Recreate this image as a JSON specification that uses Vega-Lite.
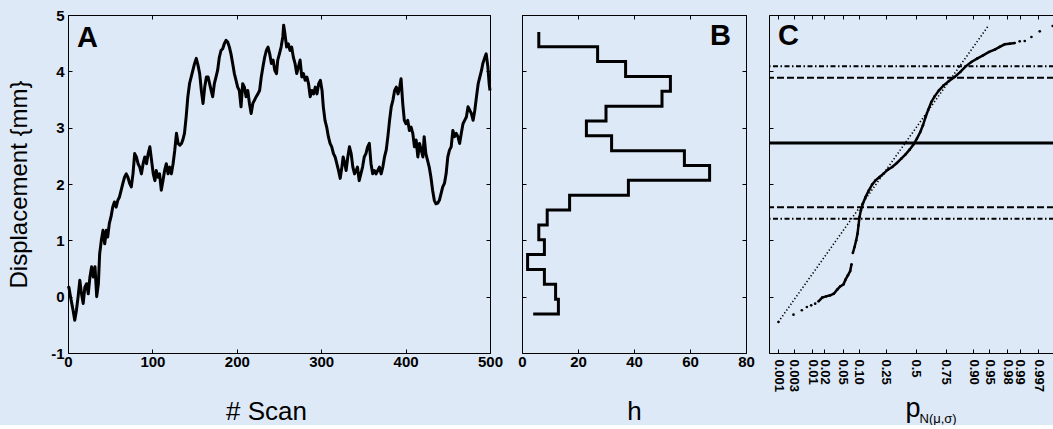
{
  "$schema": "https://vega.github.io/schema/vega-lite/v6.json",
  "background": "#dde9f7",
  "padding": {"left": 6, "top": 7, "right": 0, "bottom": 0},
  "bounds": "flush",
  "spacing": 32,
  "datasets": {
    "series": [
      {"scan":0,"disp":0.15},{"scan":1,"disp":0.17},{"scan":3,"disp":0.0},{"scan":6,"disp":-0.24},{"scan":8,"disp":-0.42},{"scan":10,"disp":-0.24},{"scan":12,"disp":0.0},{"scan":14,"disp":0.29},{"scan":16,"disp":0.05},{"scan":18,"disp":-0.12},
      {"scan":20,"disp":0.17},{"scan":22,"disp":0.23},{"scan":24,"disp":0.05},{"scan":26,"disp":0.35},{"scan":28,"disp":0.53},{"scan":30,"disp":0.35},{"scan":32,"disp":0.53},{"scan":34,"disp":0.0},{"scan":36,"disp":0.23},{"scan":37.5,"disp":0.76},
      {"scan":39.5,"disp":1.0},{"scan":41.5,"disp":1.18},{"scan":43.5,"disp":0.94},{"scan":45.5,"disp":1.18},{"scan":47,"disp":1.06},{"scan":49,"disp":1.3},{"scan":51,"disp":1.42},{"scan":53,"disp":1.59},{"scan":55,"disp":1.68},{"scan":57,"disp":1.59},
      {"scan":59,"disp":1.71},{"scan":61,"disp":1.77},{"scan":63,"disp":1.89},{"scan":65,"disp":2.01},{"scan":67,"disp":2.12},{"scan":69,"disp":2.18},{"scan":71,"disp":2.12},{"scan":73,"disp":2.01},{"scan":75,"disp":1.95},{"scan":77,"disp":2.18},
      {"scan":79,"disp":2.54},{"scan":81,"disp":2.48},{"scan":83,"disp":2.36},{"scan":85,"disp":2.3},{"scan":87,"disp":2.18},{"scan":89,"disp":2.36},{"scan":91,"disp":2.48},{"scan":93,"disp":2.36},{"scan":95,"disp":2.54},{"scan":97,"disp":2.66},
      {"scan":99,"disp":2.42},{"scan":101,"disp":2.18},{"scan":103,"disp":2.06},{"scan":104.5,"disp":2.24},{"scan":106.5,"disp":2.12},{"scan":108.5,"disp":2.18},{"scan":110.5,"disp":1.89},{"scan":112.5,"disp":2.06},{"scan":114.5,"disp":2.24},{"scan":116.5,"disp":2.36},
      {"scan":118.5,"disp":2.18},{"scan":120.5,"disp":2.3},{"scan":122.5,"disp":2.18},{"scan":124.5,"disp":2.36},{"scan":126.5,"disp":2.6},{"scan":128.5,"disp":2.9},{"scan":130.5,"disp":2.72},{"scan":132.5,"disp":2.69},{"scan":134.5,"disp":2.72},{"scan":136,"disp":2.78},
      {"scan":138,"disp":2.9},{"scan":140,"disp":3.19},{"scan":142,"disp":3.55},{"scan":144,"disp":3.78},{"scan":146,"disp":3.9},{"scan":148,"disp":4.02},{"scan":150,"disp":4.14},{"scan":152,"disp":4.23},{"scan":154,"disp":4.11},{"scan":156,"disp":3.96},
      {"scan":158,"disp":3.66},{"scan":160,"disp":3.43},{"scan":162,"disp":3.72},{"scan":164,"disp":3.9},{"scan":166,"disp":3.9},{"scan":168.7,"disp":3.72},{"scan":171.4,"disp":3.55},{"scan":173.4,"disp":3.78},{"scan":175.4,"disp":3.9},{"scan":177.3,"disp":4.02},
      {"scan":179.3,"disp":4.25},{"scan":181.3,"disp":4.37},{"scan":183.3,"disp":4.4},{"scan":185.2,"disp":4.49},{"scan":187.2,"disp":4.55},{"scan":189.2,"disp":4.52},{"scan":191.2,"disp":4.43},{"scan":193.1,"disp":4.31},{"scan":195.1,"disp":4.14},{"scan":197.1,"disp":3.96},
      {"scan":199.1,"disp":3.84},{"scan":201,"disp":3.72},{"scan":203,"disp":3.66},{"scan":205,"disp":3.37},{"scan":207,"disp":3.78},{"scan":209,"disp":3.72},{"scan":211,"disp":3.55},{"scan":213,"disp":3.66},{"scan":215,"disp":3.43},{"scan":217,"disp":3.25},
      {"scan":219,"disp":3.43},{"scan":221,"disp":3.49},{"scan":223,"disp":3.55},{"scan":225,"disp":3.6},{"scan":227,"disp":3.66},{"scan":229,"disp":3.9},{"scan":231,"disp":4.08},{"scan":233,"disp":4.25},{"scan":235,"disp":4.37},{"scan":237,"disp":4.43},
      {"scan":239,"disp":4.31},{"scan":241,"disp":4.14},{"scan":243,"disp":4.2},{"scan":245,"disp":4.02},{"scan":247,"disp":3.96},{"scan":248.5,"disp":4.2},{"scan":250.5,"disp":4.31},{"scan":252.5,"disp":4.43},{"scan":254.5,"disp":4.61},{"scan":255.5,"disp":4.82},
      {"scan":257,"disp":4.67},{"scan":259,"disp":4.43},{"scan":261,"disp":4.49},{"scan":263,"disp":4.37},{"scan":265,"disp":4.43},{"scan":267,"disp":4.25},{"scan":269,"disp":4.14},{"scan":271,"disp":3.96},{"scan":273,"disp":4.08},{"scan":275,"disp":4.2},
      {"scan":277,"disp":3.9},{"scan":279,"disp":3.96},{"scan":281,"disp":3.84},{"scan":283,"disp":3.9},{"scan":285,"disp":3.78},{"scan":287,"disp":3.55},{"scan":289,"disp":3.66},{"scan":291,"disp":3.6},{"scan":293,"disp":3.72},{"scan":295,"disp":3.6},
      {"scan":297,"disp":3.78},{"scan":299,"disp":3.84},{"scan":301,"disp":3.66},{"scan":302.5,"disp":3.37},{"scan":304.5,"disp":3.13},{"scan":306.5,"disp":3.01},{"scan":308.5,"disp":2.84},{"scan":310.5,"disp":2.72},{"scan":312.5,"disp":2.66},{"scan":314.5,"disp":2.54},
      {"scan":316.5,"disp":2.48},{"scan":318.5,"disp":2.36},{"scan":320.5,"disp":2.24},{"scan":322.5,"disp":2.1},{"scan":324.5,"disp":2.3},{"scan":326,"disp":2.48},{"scan":328,"disp":2.36},{"scan":329.5,"disp":2.24},{"scan":331.5,"disp":2.48},{"scan":333.5,"disp":2.66},
      {"scan":335.5,"disp":2.54},{"scan":337.5,"disp":2.3},{"scan":339.5,"disp":2.18},{"scan":341.5,"disp":2.24},{"scan":343,"disp":2.3},{"scan":345,"disp":2.06},{"scan":347,"disp":2.18},{"scan":349,"disp":2.3},{"scan":351,"disp":2.48},{"scan":353,"disp":2.54},
      {"scan":355,"disp":2.66},{"scan":357,"disp":2.72},{"scan":359,"disp":2.36},{"scan":361,"disp":2.18},{"scan":363,"disp":2.24},{"scan":365,"disp":2.18},{"scan":367,"disp":2.24},{"scan":369,"disp":2.3},{"scan":371,"disp":2.18},{"scan":373,"disp":2.3},
      {"scan":375,"disp":2.48},{"scan":377,"disp":2.6},{"scan":379,"disp":2.84},{"scan":381,"disp":3.13},{"scan":383,"disp":3.37},{"scan":385,"disp":3.49},{"scan":387,"disp":3.66},{"scan":389,"disp":3.72},{"scan":391,"disp":3.6},{"scan":393,"disp":3.72},
      {"scan":394.6,"disp":3.87},{"scan":396.6,"disp":3.43},{"scan":398.5,"disp":3.13},{"scan":400.5,"disp":3.07},{"scan":402.5,"disp":3.13},{"scan":404.5,"disp":2.95},{"scan":406.5,"disp":3.01},{"scan":408.5,"disp":2.9},{"scan":410.5,"disp":2.66},{"scan":412.5,"disp":2.78},
      {"scan":414.5,"disp":2.48},{"scan":416.5,"disp":2.72},{"scan":418.5,"disp":2.6},{"scan":420.5,"disp":2.48},{"scan":422,"disp":2.84},{"scan":424,"disp":2.54},{"scan":426,"disp":2.42},{"scan":428,"disp":2.3},{"scan":430,"disp":2.12},{"scan":432,"disp":1.89},
      {"scan":434,"disp":1.71},{"scan":436,"disp":1.65},{"scan":438,"disp":1.66},{"scan":440,"disp":1.71},{"scan":442,"disp":1.83},{"scan":444,"disp":1.95},{"scan":446,"disp":2.01},{"scan":448,"disp":2.18},{"scan":450,"disp":2.48},{"scan":452,"disp":2.6},
      {"scan":454,"disp":2.66},{"scan":456,"disp":2.95},{"scan":458,"disp":2.84},{"scan":460,"disp":2.9},{"scan":462,"disp":2.84},{"scan":464,"disp":2.72},{"scan":466,"disp":2.9},{"scan":468,"disp":3.07},{"scan":470,"disp":3.13},{"scan":472,"disp":3.19},
      {"scan":474,"disp":3.37},{"scan":476,"disp":3.31},{"scan":478,"disp":3.25},{"scan":480,"disp":3.13},{"scan":482,"disp":3.31},{"scan":484,"disp":3.55},{"scan":486,"disp":3.78},{"scan":488,"disp":3.9},{"scan":490,"disp":4.02},{"scan":491.5,"disp":4.14},
      {"scan":493.5,"disp":4.23},{"scan":495.5,"disp":4.31},{"scan":497.5,"disp":4.08},{"scan":499,"disp":3.78},{"scan":500,"disp":3.66}
    ],
    "hist": [
      {"i":0,"h":4,"disp":-0.307},{"i":1,"h":13,"disp":-0.307},{"i":2,"h":13,"disp":-0.044},{"i":3,"h":12,"disp":-0.044},{"i":4,"h":12,"disp":0.22},
      {"i":5,"h":8,"disp":0.22},{"i":6,"h":8,"disp":0.484},{"i":7,"h":2,"disp":0.484},{"i":8,"h":2,"disp":0.747},{"i":9,"h":8,"disp":0.747},
      {"i":10,"h":8,"disp":1.011},{"i":11,"h":6,"disp":1.011},{"i":12,"h":6,"disp":1.274},{"i":13,"h":9,"disp":1.274},{"i":14,"h":9,"disp":1.538},
      {"i":15,"h":17,"disp":1.538},{"i":16,"h":17,"disp":1.801},{"i":17,"h":38,"disp":1.801},{"i":18,"h":38,"disp":2.065},{"i":19,"h":67,"disp":2.065},
      {"i":20,"h":67,"disp":2.328},{"i":21,"h":58,"disp":2.328},{"i":22,"h":58,"disp":2.592},{"i":23,"h":32,"disp":2.592},{"i":24,"h":32,"disp":2.855},
      {"i":25,"h":23,"disp":2.855},{"i":26,"h":23,"disp":3.119},{"i":27,"h":30,"disp":3.119},{"i":28,"h":30,"disp":3.382},{"i":29,"h":50,"disp":3.382},
      {"i":30,"h":50,"disp":3.646},{"i":31,"h":53,"disp":3.646},{"i":32,"h":53,"disp":3.909},{"i":33,"h":37,"disp":3.909},{"i":34,"h":37,"disp":4.173},
      {"i":35,"h":27,"disp":4.173},{"i":36,"h":27,"disp":4.436},{"i":37,"h":6,"disp":4.436},{"i":38,"h":6,"disp":4.7}
    ],
    "qq": [
      {"z":-3.088,"disp":-0.449,"seg":"t"},{"z":-2.75,"disp":-0.319,"seg":"t"},{"z":-2.563,"disp":-0.242,"seg":"t"},{"z":-2.45,"disp":-0.183,"seg":"t"},{"z":-2.353,"disp":-0.154,"seg":"t"},{"z":-2.263,"disp":-0.124,"seg":"t"},
      {"z":-2.188,"disp":-0.083,"seg":"a"},{"z":-2.106,"disp":-0.018,"seg":"a"},{"z":-2.016,"disp":0.006,"seg":"a"},{"z":-1.926,"disp":0.024,"seg":"a"},{"z":-1.844,"disp":0.053,"seg":"a"},{"z":-1.769,"disp":0.124,"seg":"a"},
      {"z":-1.702,"disp":0.183,"seg":"a"},{"z":-1.627,"disp":0.219,"seg":"a"},{"z":-1.582,"disp":0.302,"seg":"a"},{"z":-1.529,"disp":0.379,"seg":"a"},{"z":-1.477,"disp":0.455,"seg":"a"},{"z":-1.447,"disp":0.574,"seg":"a"},
      {"z":-1.417,"disp":0.775,"seg":"b"},{"z":-1.379,"disp":0.882,"seg":"b"},{"z":-1.342,"disp":1.0,"seg":"b"},{"z":-1.312,"disp":1.118,"seg":"b"},{"z":-1.29,"disp":1.266,"seg":"b"},{"z":-1.267,"disp":1.414,"seg":"b"},
      {"z":-1.237,"disp":1.533,"seg":"b"},{"z":-1.192,"disp":1.651,"seg":"b"},{"z":-1.132,"disp":1.769,"seg":"b"},{"z":-1.057,"disp":1.888,"seg":"b"},{"z":-0.982,"disp":1.994,"seg":"b"},{"z":-0.907,"disp":2.065,"seg":"b"},
      {"z":-0.817,"disp":2.124,"seg":"b"},{"z":-0.728,"disp":2.184,"seg":"b"},{"z":-0.63,"disp":2.255,"seg":"b"},{"z":-0.533,"disp":2.302,"seg":"b"},{"z":-0.428,"disp":2.373,"seg":"b"},{"z":-0.33,"disp":2.45,"seg":"b"},
      {"z":-0.233,"disp":2.527,"seg":"b"},{"z":-0.143,"disp":2.61,"seg":"b"},{"z":-0.053,"disp":2.704,"seg":"b"},{"z":0.022,"disp":2.805,"seg":"b"},{"z":0.097,"disp":2.923,"seg":"b"},{"z":0.157,"disp":3.042,"seg":"b"},
      {"z":0.217,"disp":3.19,"seg":"b"},{"z":0.277,"disp":3.32,"seg":"b"},{"z":0.345,"disp":3.456,"seg":"b"},{"z":0.42,"disp":3.556,"seg":"b"},{"z":0.517,"disp":3.663,"seg":"b"},{"z":0.622,"disp":3.752,"seg":"b"},
      {"z":0.742,"disp":3.829,"seg":"b"},{"z":0.869,"disp":3.9,"seg":"b"},{"z":0.997,"disp":3.989,"seg":"b"},{"z":1.117,"disp":4.089,"seg":"b"},{"z":1.244,"disp":4.166,"seg":"b"},{"z":1.372,"disp":4.225,"seg":"b"},
      {"z":1.507,"disp":4.284,"seg":"b"},{"z":1.642,"disp":4.344,"seg":"b"},{"z":1.769,"disp":4.385,"seg":"b"},{"z":1.881,"disp":4.433,"seg":"b"},{"z":1.993,"disp":4.48,"seg":"b"},{"z":2.106,"disp":4.491,"seg":"b"},
      {"z":2.218,"disp":4.503,"seg":"b"},
      {"z":2.33,"disp":4.533,"seg":"t"},{"z":2.443,"disp":4.539,"seg":"t"},{"z":2.593,"disp":4.61,"seg":"t"},{"z":2.78,"disp":4.71,"seg":"t"},{"z":3.07,"disp":4.805,"seg":"t"}
    ],
    "fit": [{"z1":-3.09,"d1":-0.449,"z2":1.618,"d2":4.8}],
    "hl": [
      {"disp":2.728,"kind":"solid"},{"disp":3.888,"kind":"dash"},{"disp":1.586,"kind":"dash"},{"disp":4.089,"kind":"dashdot"},{"disp":1.385,"kind":"dashdot"}
    ]
  },
  "hconcat": [
    {
      "width": 422,
      "height": 338,
      "title": {"text": "A", "anchor": "start", "frame": "group", "dx": 9, "offset": -68, "baseline": "alphabetic"},
      "layer": [
        {
          "data": {"name": "series"},
          "mark": {"type": "line", "color": "#000", "strokeWidth": 3, "strokeJoin": "round"},
          "encoding": {
            "x": {"field": "scan", "type": "quantitative", "scale": {"domain": [0, 500], "nice": false},
                  "axis": {"values": [0,100,200,300,400,500], "title": "# Scan", "labelPadding": 5, "titleX": 198, "titleY": 66, "titleBaseline": "alphabetic"}},
            "y": {"field": "disp", "type": "quantitative", "scale": {"domain": [-1, 5], "nice": false, "zero": false},
                  "axis": {"values": [-1,0,1,2,3,4,5], "labelExpr": "datum.value < 0 ? '-' + format(-datum.value, 'd') : format(datum.value, 'd')", "title": "Displacement {mm}", "labelPadding": 8, "titleX": -42, "titleBaseline": "alphabetic", "titleFontSize": 24}}
          }
        },
        {
          "data": {"name": "series"},
          "mark": {"type": "line", "opacity": 0},
          "encoding": {
            "x": {"field": "scan", "type": "quantitative", "scale": {"domain": [0, 500], "nice": false},
                  "axis": {"orient": "top", "values": [0,100,200,300,400,500], "labels": false, "title": null}},
            "y": {"field": "disp", "type": "quantitative", "scale": {"domain": [-1, 5], "nice": false, "zero": false},
                  "axis": {"orient": "right", "values": [-1,0,1,2,3,4,5], "labels": false, "title": null}}
          }
        }
      ],
      "resolve": {"axis": {"x": "independent", "y": "independent"}}
    },
    {
      "spacing": 23,
      "bounds": "flush",
      "hconcat": [
        {
          "width": 224,
          "height": 338,
          "title": {"text": "B", "anchor": "end", "frame": "group", "dx": -15, "offset": -59, "baseline": "alphabetic"},
          "layer": [
            {
              "data": {"name": "hist"},
              "mark": {"type": "line", "color": "#000", "strokeWidth": 3, "strokeJoin": "miter"},
              "encoding": {
                "x": {"field": "h", "type": "quantitative", "scale": {"domain": [0, 80], "nice": false},
                      "axis": {"values": [0,20,40,60,80], "title": "h", "labelPadding": 5, "titleY": 66, "titleBaseline": "alphabetic"}},
                "y": {"field": "disp", "type": "quantitative", "scale": {"domain": [-1, 5], "nice": false, "zero": false},
                      "axis": {"values": [-1,0,1,2,3,4,5], "labels": false, "title": null}},
                "order": {"field": "i", "type": "quantitative"}
              }
            },
            {
              "data": {"name": "hist"},
              "mark": {"type": "line", "opacity": 0},
              "encoding": {
                "x": {"field": "h", "type": "quantitative", "scale": {"domain": [0, 80], "nice": false},
                      "axis": {"orient": "top", "values": [0,20,40,60,80], "labels": false, "title": null}},
                "y": {"field": "disp", "type": "quantitative", "scale": {"domain": [-1, 5], "nice": false, "zero": false},
                      "axis": {"orient": "right", "values": [-1,0,1,2,3,4,5], "labels": false, "title": null}},
                "order": {"field": "i", "type": "quantitative"}
              }
            }
          ],
          "resolve": {"axis": {"x": "independent", "y": "independent"}}
        },
        {
          "width": 285,
          "height": 338,
          "view": {"stroke": null},
          "title": {"text": "C", "anchor": "start", "frame": "group", "dx": 9, "offset": -59, "baseline": "alphabetic"},
          "layer": [
            {
              "data": {"name": "hl"},
              "transform": [{"filter": "datum.kind === 'solid'"}],
              "mark": {"type": "rule", "color": "#000", "strokeWidth": 3},
              "encoding": {
                "y": {"field": "disp", "type": "quantitative", "scale": {"domain": [-1, 5], "nice": false, "zero": false}, "axis": null}
              }
            },
            {
              "data": {"name": "hl"},
              "transform": [{"filter": "datum.kind === 'dash'"}],
              "mark": {"type": "rule", "color": "#000", "strokeWidth": 2, "strokeDash": [7, 3]},
              "encoding": {
                "y": {"field": "disp", "type": "quantitative", "scale": {"domain": [-1, 5], "nice": false, "zero": false}, "axis": null}
              }
            },
            {
              "data": {"name": "hl"},
              "transform": [{"filter": "datum.kind === 'dashdot'"}],
              "mark": {"type": "rule", "color": "#000", "strokeWidth": 2, "strokeDash": [5, 2.5, 1.5, 2.5]},
              "encoding": {
                "y": {"field": "disp", "type": "quantitative", "scale": {"domain": [-1, 5], "nice": false, "zero": false}, "axis": null}
              }
            },
            {
              "data": {"name": "fit"},
              "mark": {"type": "rule", "color": "#000", "strokeWidth": 1.6, "strokeDash": [1.3, 2.2]},
              "encoding": {
                "x": {"field": "z1", "type": "quantitative", "scale": {"domain": [-3.3, 3.1], "nice": false, "zero": false}, "axis": null},
                "y": {"field": "d1", "type": "quantitative", "scale": {"domain": [-1, 5], "nice": false, "zero": false}, "axis": null},
                "x2": {"field": "z2"},
                "y2": {"field": "d2"}
              }
            },
            {
              "data": {"name": "qq"},
              "transform": [{"filter": "datum.seg !== 't'"}],
              "mark": {"type": "line", "color": "#000", "strokeWidth": 2.5},
              "encoding": {
                "x": {"field": "z", "type": "quantitative", "scale": {"domain": [-3.3, 3.1], "nice": false, "zero": false}, "axis": null},
                "y": {"field": "disp", "type": "quantitative", "scale": {"domain": [-1, 5], "nice": false, "zero": false}, "axis": null},
                "detail": {"field": "seg", "type": "nominal"}
              }
            },
            {
              "data": {"name": "qq"},
              "mark": {"type": "point", "filled": true, "color": "#000", "size": 7, "opacity": 1},
              "encoding": {
                "x": {"field": "z", "type": "quantitative", "scale": {"domain": [-3.3, 3.1], "nice": false, "zero": false},
                      "axis": {"values": [-3.0902,-2.7478,-2.3263,-2.0537,-1.6449,-1.2816,-0.6745,0,0.6745,1.2816,1.6449,2.0537,2.3263,2.7478,3.0902],
                               "labelExpr": "datum.value < -2.9 ? '0.001' : datum.value < -2.5 ? '0.003' : datum.value < -2.2 ? '0.01' : datum.value < -1.9 ? '0.02' : datum.value < -1.5 ? '0.05' : datum.value < -1 ? '0.10' : datum.value < -0.3 ? '0.25' : datum.value < 0.3 ? '0.5' : datum.value < 1 ? '0.75' : datum.value < 1.5 ? '0.90' : datum.value < 1.9 ? '0.95' : datum.value < 2.2 ? '0.98' : datum.value < 2.5 ? '0.99' : datum.value < 2.9 ? '0.997' : ''",
                               "labelAngle": 90, "labelFontSize": 13, "labelPadding": 10, "labelAlign": "left", "labelBaseline": "middle",
                               "domain": true, "title": "p", "titleX": 136, "titleY": 63, "titleAlign": "left", "titleBaseline": "alphabetic", "titleFontSize": 27}},
                "y": {"field": "disp", "type": "quantitative", "scale": {"domain": [-1, 5], "nice": false, "zero": false},
                      "axis": {"values": [-1,0,1,2,3,4,5], "labels": false, "title": null, "domain": true}}
              }
            },
            {
              "data": {"name": "qq"},
              "mark": {"type": "point", "opacity": 0},
              "encoding": {
                "x": {"field": "z", "type": "quantitative", "scale": {"domain": [-3.3, 3.1], "nice": false, "zero": false},
                      "axis": {"orient": "top", "values": [-3.0902,-2.7478,-2.3263,-2.0537,-1.6449,-1.2816,-0.6745,0,0.6745,1.2816,1.6449,2.0537,2.3263,2.7478,3.0902],
                               "labels": false, "title": null, "domain": true}}
              }
            },
            {
              "data": {"name": "qq"},
              "mark": {"type": "point", "opacity": 0},
              "encoding": {
                "x": {"field": "z", "type": "quantitative", "scale": {"domain": [-3.3, 3.1], "nice": false, "zero": false},
                      "axis": {"orient": "bottom", "ticks": false, "labels": false, "domain": false, "title": "N(μ,σ)",
                               "titleX": 150, "titleY": 69, "titleAlign": "left", "titleBaseline": "alphabetic", "titleFontSize": 13}}
              }
            }
          ],
          "resolve": {"axis": {"x": "independent", "y": "independent"}}
        }
      ]
    }
  ],
  "config": {
    "view": {"stroke": "#000", "strokeWidth": 1},
    "axis": {
      "grid": false,
      "domain": false,
      "domainColor": "#000",
      "domainWidth": 1,
      "ticks": true,
      "tickColor": "#000",
      "tickSize": -4,
      "tickWidth": 1,
      "labelColor": "#000",
      "labelFont": "Liberation Sans",
      "labelFontWeight": "bold",
      "labelFontSize": 15,
      "labelFlush": false,
      "labelOverlap": false,
      "labelBound": false,
      "titleColor": "#000",
      "titleFont": "Liberation Sans",
      "titleFontWeight": "normal",
      "titleFontSize": 26
    },
    "title": {"font": "Liberation Sans", "fontWeight": "bold", "fontSize": 29, "color": "#000"}
  }
}
